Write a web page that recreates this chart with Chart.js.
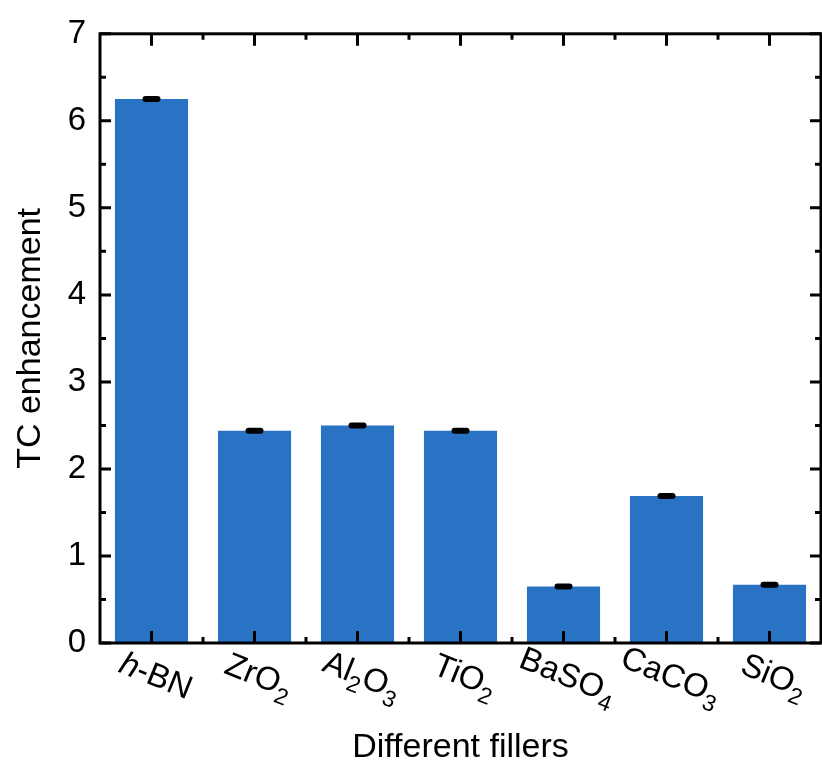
<!DOCTYPE html>
<html>
<head>
<meta charset="utf-8">
<script src="https://cdn.jsdelivr.net/npm/chart.js@4.4.1/dist/chart.umd.min.js"></script>
<style>
  body { margin: 0; background: #fff; }
  canvas { display: block; }
</style>
</head>
<body>
<canvas id="myChart" width="822" height="765"></canvas>
<script>
const FILLERS = ['h-BN', 'ZrO2', 'Al2O3', 'TiO2', 'BaSO4', 'CaCO3', 'SiO2'];
const TC_VALUES = [6.25, 2.44, 2.50, 2.44, 0.65, 1.69, 0.67];
const TC_ERRORS = [0.02, 0.015, 0.025, 0.02, 0.015, 0.02, 0.015];
const Y_TICKS = [0, 1, 2, 3, 4, 5, 6, 7];

const FONT = '"Liberation Sans", Arial, sans-serif';
const BAR_COLOR = '#2a72c4';

// split a formula into normal text / subscript digits / italic prefix
function parts(label) {
  const out = [];
  let rest = label;
  if (rest.startsWith('h-')) {
    out.push({ t: 'h', kind: 'it' });
    rest = rest.slice(1);
  }
  const re = /(\d+)|(\D+)/g;
  let m;
  while ((m = re.exec(rest)) !== null) {
    out.push({ t: m[0], kind: m[1] ? 'sub' : 'norm' });
  }
  return out;
}

const errorBars = {
  id: 'errorBars',
  afterDatasetsDraw(chart) {
    const ctx = chart.ctx;
    const x = chart.scales.x, y = chart.scales.y;
    ctx.save();
    ctx.fillStyle = '#000';
    TC_VALUES.forEach((v, i) => {
      const cx = x.getPixelForValue(i);
      const top = y.getPixelForValue(v + TC_ERRORS[i]);
      const bot = y.getPixelForValue(v - TC_ERRORS[i]);
      const h = Math.max(bot - top, 6);
      const mid = (top + bot) / 2;
      ctx.beginPath();
      ctx.roundRect(cx - 9, mid - h / 2, 18, h, 3);
      ctx.fill();
    });
    ctx.restore();
  }
};

const frame = {
  id: 'frame',
  afterDraw(chart) {
    const ctx = chart.ctx;
    const a = chart.chartArea;
    const x = chart.scales.x, y = chart.scales.y;
    ctx.save();
    ctx.strokeStyle = '#000';
    ctx.lineWidth = 3;
    ctx.strokeRect(a.left, a.top, a.right - a.left, a.bottom - a.top);
    ctx.beginPath();
    // y ticks, major and minor, both sides
    for (let v = 0; v <= 7; v += 0.5) {
      const py = y.getPixelForValue(v);
      const len = Number.isInteger(v) ? 11 : 6;
      ctx.moveTo(a.left, py); ctx.lineTo(a.left + len, py);
      ctx.moveTo(a.right, py); ctx.lineTo(a.right - len, py);
    }
    // x ticks: major at bars, minor between
    for (let i = 0; i < FILLERS.length; i++) {
      const px = x.getPixelForValue(i);
      ctx.moveTo(px, a.bottom); ctx.lineTo(px, a.bottom - 12);
      ctx.moveTo(px, a.top); ctx.lineTo(px, a.top + 12);
      if (i > 0) {
        const pm = (px + x.getPixelForValue(i - 1)) / 2;
        ctx.moveTo(pm, a.bottom); ctx.lineTo(pm, a.bottom - 6);
        ctx.moveTo(pm, a.top); ctx.lineTo(pm, a.top + 6);
      }
    }
    ctx.stroke();

    // rotated category labels with subscripts
    ctx.fillStyle = '#000';
    ctx.textBaseline = 'middle';
    ctx.textAlign = 'left';
    FILLERS.forEach((lab, i) => {
      const ps = parts(lab);
      const fontOf = p => p.kind === 'sub' ? '23px ' + FONT :
                          p.kind === 'it' ? 'italic 33px ' + FONT : '33px ' + FONT;
      let w = 0;
      ps.forEach(p => { ctx.font = fontOf(p); w += ctx.measureText(p.t).width; });
      ctx.save();
      ctx.translate(x.getPixelForValue(i) + 4, a.bottom + 34);
      ctx.rotate(22 * Math.PI / 180);
      let cx = -w / 2;
      ps.forEach(p => {
        ctx.font = fontOf(p);
        ctx.fillText(p.t, cx, p.kind === 'sub' ? 11 : 0);
        cx += ctx.measureText(p.t).width;
      });
      ctx.restore();
    });
    ctx.restore();
  }
};

const config = {
  type: 'bar',
  data: {
    labels: FILLERS,
    datasets: [{
      label: 'TC enhancement',
      data: TC_VALUES,
      backgroundColor: BAR_COLOR,
      borderWidth: 0,
      barPercentage: 0.71,
      categoryPercentage: 1.0
    }]
  },
  options: {
    responsive: false,
    animation: false,
    layout: { padding: { top: 32, right: 1, left: 0, bottom: 0 } },
    scales: {
      x: {
        grid: { display: false, drawTicks: false },
        border: { display: false },
        ticks: { display: false },
        title: {
          display: true,
          text: 'Different fillers',
          color: '#000',
          font: { family: FONT, size: 34, lineHeight: 1 },
          padding: { top: 0, bottom: 0 }
        },
        afterFit(scale) { scale.height = 122; }
      },
      y: {
        min: 0,
        max: 7,
        grid: { display: false, drawTicks: false },
        border: { display: false },
        afterBuildTicks(scale) { scale.ticks = Y_TICKS.map(v => ({ value: v })); },
        ticks: {
          color: '#000',
          padding: 14,
          font: { family: FONT, size: 33 }
        },
        title: {
          display: true,
          text: 'TC enhancement',
          color: '#000',
          font: { family: FONT, size: 34, lineHeight: 1 },
          padding: { top: 14, bottom: 0 }
        },
        afterFit(scale) { scale.width = 100; }
      }
    },
    plugins: {
      legend: { display: false },
      tooltip: { enabled: false }
    }
  },
  plugins: [errorBars, frame]
};

function buildChart() {
  const ctx = document.getElementById('myChart').getContext('2d');
  return new Chart(ctx, config);
}

buildChart();
</script>
</body>
</html>
